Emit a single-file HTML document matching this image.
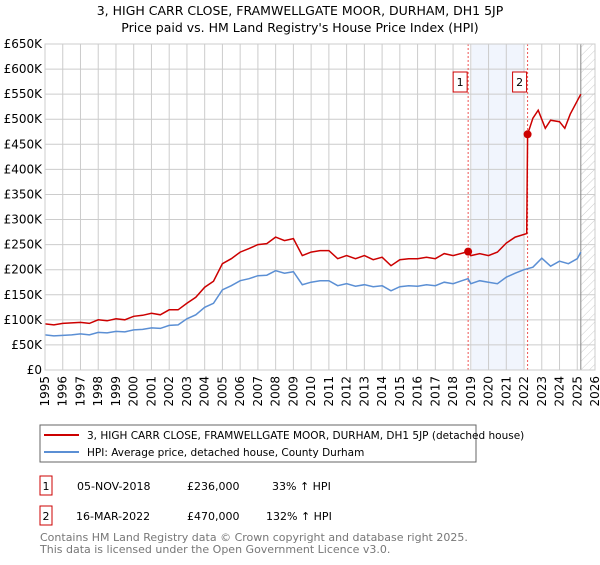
<!DOCTYPE html>
<html><head><meta charset="utf-8"><style>
body{margin:0;background:#fff;font-family:"Liberation Sans","DejaVu Sans",sans-serif;}
svg text{font-family:"DejaVu Sans","Liberation Sans",sans-serif;}
</style></head><body>
<svg width="600" height="560" xmlns="http://www.w3.org/2000/svg">
<defs><pattern id="hatch" width="6" height="6" patternUnits="userSpaceOnUse" patternTransform="rotate(45)"><line x1="0" y1="0" x2="0" y2="6" stroke="#ccc" stroke-width="1"/></pattern></defs>
<text x="300" y="15" text-anchor="middle" font-size="12.5">3, HIGH CARR CLOSE, FRAMWELLGATE MOOR, DURHAM, DH1 5JP</text>
<text x="300" y="32" text-anchor="middle" font-size="12.5">Price paid vs. HM Land Registry's House Price Index (HPI)</text>
<g id="plot"></g>
<rect x="40" y="425" width="436" height="37" fill="none" stroke="#666"/>
<line x1="44" y1="435" x2="79" y2="435" stroke="#cc0000" stroke-width="2"/>
<text x="87" y="439" font-size="10.5">3, HIGH CARR CLOSE, FRAMWELLGATE MOOR, DURHAM, DH1 5JP (detached house)</text>
<line x1="44" y1="452" x2="79" y2="452" stroke="#5b8fd4" stroke-width="2"/>
<text x="87" y="456" font-size="10.5">HPI: Average price, detached house, County Durham</text>
<g font-size="11">
<rect x="40" y="476" width="12" height="19" fill="none" stroke="#cc0000"/>
<text x="46" y="490" text-anchor="middle">1</text>
<text x="77" y="490">05-NOV-2018</text><text x="187" y="490">£236,000</text><text x="272" y="490">33% ↑ HPI</text>
<rect x="40" y="506" width="12" height="19" fill="none" stroke="#cc0000"/>
<text x="46" y="520" text-anchor="middle">2</text>
<text x="76" y="520">16-MAR-2022</text><text x="187" y="520">£470,000</text><text x="266" y="520">132% ↑ HPI</text>
</g>
<text x="40" y="541" font-size="11" fill="#777">Contains HM Land Registry data © Crown copyright and database right 2025.</text>
<text x="40" y="553" font-size="11" fill="#777">This data is licensed under the Open Government Licence v3.0.</text>
</svg>
<script>
const yTicks=[0,50,100,150,200,250,300,350,400,450,500,550,600,650];
const yTickLabels=["£0","£50K","£100K","£150K","£200K","£250K","£300K","£350K","£400K","£450K","£500K","£550K","£600K","£650K"];
const xYears=[1995,1996,1997,1998,1999,2000,2001,2002,2003,2004,2005,2006,2007,2008,2009,2010,2011,2012,2013,2014,2015,2016,2017,2018,2019,2020,2021,2022,2023,2024,2025,2026];
const hpiT=[1995,1995.5,1996,1996.5,1997,1997.5,1998,1998.5,1999,1999.5,2000,2000.5,2001,2001.5,2002,2002.5,2003,2003.5,2004,2004.5,2005,2005.5,2006,2006.5,2007,2007.5,2008,2008.5,2009,2009.5,2010,2010.5,2011,2011.5,2012,2012.5,2013,2013.5,2014,2014.5,2015,2015.5,2016,2016.5,2017,2017.5,2018,2018.5,2018.85,2019,2019.5,2020,2020.5,2021,2021.5,2022,2022.5,2023,2023.5,2024,2024.5,2025,2025.2];
const hpiV=[70,68,69,70,72,70,75,74,77,76,80,81,84,83,89,90,102,110,125,133,160,168,178,182,188,189,198,193,196,170,175,178,178,168,172,167,170,166,168,158,166,168,167,170,168,175,172,178,182,172,178,175,172,185,193,200,205,223,207,217,212,222,235];
const propT=[1995,1995.5,1996,1997,1997.5,1998,1998.5,1999,1999.5,2000,2000.5,2001,2001.5,2002,2002.5,2003,2003.5,2004,2004.5,2005,2005.5,2006,2006.5,2007,2007.5,2008,2008.5,2009,2009.5,2010,2010.5,2011,2011.5,2012,2012.5,2013,2013.5,2014,2014.5,2015,2015.5,2016,2016.5,2017,2017.5,2018,2018.85,2019,2019.5,2020,2020.5,2021,2021.5,2022.15,2022.2,2022.5,2022.8,2023.2,2023.5,2024,2024.3,2024.6,2025.2];
const propV=[92,90,93,95,93,100,98,102,100,107,109,113,110,120,120,133,145,165,177,212,222,235,242,250,252,265,258,262,228,235,238,238,222,228,222,228,220,225,208,220,222,222,225,222,232,228,236,228,232,228,235,253,265,272,470,502,518,482,498,495,482,510,550];
const saleT=[2018.85,2022.2];
const saleV=[236,470];
const saleLabels=["1","2"];

const X0=45,X1=595,Y0=370,Y1=44;
const xs=t=>X0+(t-1995)/31*(X1-X0);
const ys=v=>Y0-v/650*(Y0-Y1);
const NS="http://www.w3.org/2000/svg";
const g=document.getElementById('plot');
function mk(tag,attrs){const e=document.createElementNS(NS,tag);for(const k in attrs)e.setAttribute(k,attrs[k]);g.appendChild(e);return e;}

let e=mk('rect',{x:xs(2019.05),y:Y1,width:xs(2022.0)-xs(2019.05),height:Y0-Y1,fill:'#eef3fc',opacity:0.8});


e=mk('rect',{x:xs(2025.2),y:Y1,width:X1-xs(2025.2),height:Y0-Y1,fill:'url(#hatch)'});


yTicks.forEach((v,i)=>{
  let l=mk('line',{x1:X0,x2:X1,y1:ys(v),y2:ys(v),stroke:'#ccc'});
  
  
  let t=mk('text',{x:X0-3,y:ys(v)+4,'text-anchor':'end','font-size':12});
  t.textContent=yTickLabels[i];
  
  
});
xYears.forEach(yr=>{
  let l=mk('line',{x1:xs(yr),x2:xs(yr),y1:Y1,y2:Y0,stroke:'#ccc'});
  
  
  let t=mk('text',{x:0,y:0,'text-anchor':'end','font-size':12,transform:`translate(${xs(yr)+4},${Y0+6}) rotate(-90)`});
  t.textContent=yr;
  
  
});
e=mk('line',{x1:xs(2025.2),x2:xs(2025.2),y1:Y1,y2:Y0,stroke:'#888'});


saleT.forEach((t,i)=>{
  let l=mk('line',{x1:xs(t),x2:xs(t),y1:Y1,y2:Y0,stroke:'#e55','stroke-dasharray':'2,2'});
  
  
});
const pts=(T,V)=>T.map((t,i)=>xs(t).toFixed(1)+','+ys(V[i]).toFixed(1)).join(' ');
e=mk('polyline',{points:pts(hpiT,hpiV),fill:'none',stroke:'#5b8fd4','stroke-width':1.5});


e=mk('polyline',{points:pts(propT,propV),fill:'none',stroke:'#cc0000','stroke-width':1.5});


saleT.forEach((t,i)=>{
  let c=mk('circle',{cx:xs(t),cy:ys(saleV[i]),r:4,fill:'#cc0000'});
  
  
  let r=mk('rect',{x:xs(t)-15,y:72,width:14,height:20,fill:'#fff',stroke:'#cc0000'});
  
  
  let tx=mk('text',{x:xs(t)-8,y:86,'text-anchor':'middle','font-size':11});
  tx.textContent=saleLabels[i];
  
  
});
e=mk('rect',{x:X0,y:Y1,width:X1-X0,height:Y0-Y1,fill:'none',stroke:'#ccc'});


</script>
</body></html>
